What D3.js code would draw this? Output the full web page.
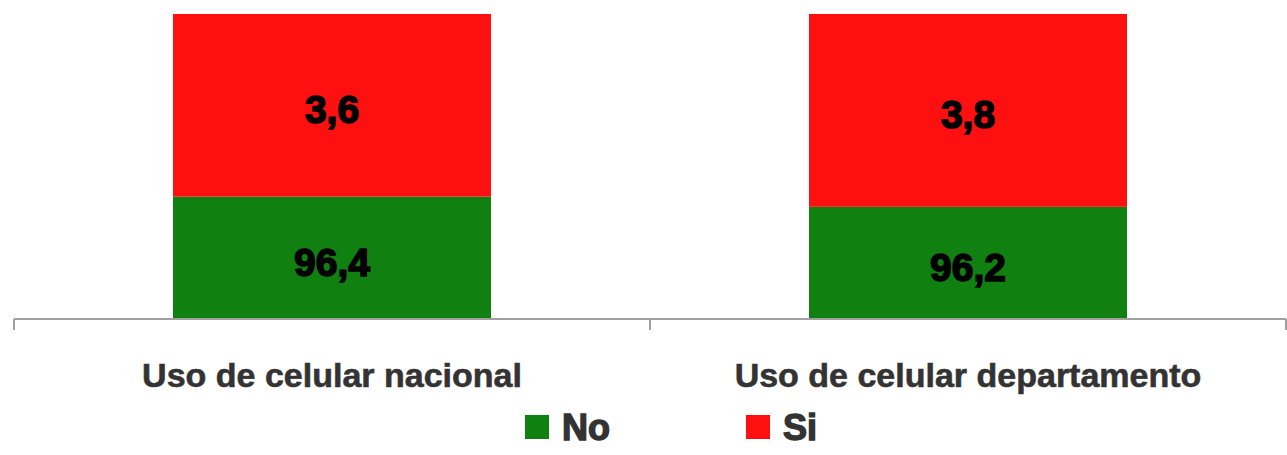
<!DOCTYPE html>
<html><head><meta charset="utf-8">
<script src="https://cdn.jsdelivr.net/npm/d3@7"></script>
<style>body{margin:0;background:#fff}svg{display:block}text{font-family:"Liberation Sans",Arial,sans-serif;font-weight:bold}</style>
</head><body>
<script>
const categories = ["Uso de celular nacional", "Uso de celular departamento"];
const seriesNames = ["No", "Si"];
const noValues = [96.4, 96.2];
const siValues = [3.6, 3.8];
const valueLabels = [["96,4", "3,6"], ["96,2", "3,8"]];
const colors = ["#108011", "#ff1010"];

const W = 1287, H = 455;
const svg = d3.select("body").append("svg").attr("width", W).attr("height", H);

const x = d3.scaleBand().domain(categories).range([14, 1286]).paddingInner(0.5).paddingOuter(0.25);
const y = d3.scaleLinear().domain([94, 100]).range([318.5, 14]);

const data = categories.map((c, i) => ({cat: c, No: noValues[i], Si: siValues[i], idx: i}));
const stack = d3.stack().keys(seriesNames)(data);

stack.forEach((layer, li) => {
  svg.append("g").selectAll("rect").data(layer).join("rect")
    .attr("x", d => x(d.data.cat))
    .attr("width", x.bandwidth())
    .attr("y", d => y(Math.min(d[1], 100)))
    .attr("height", d => y(Math.max(d[0], 94)) - y(Math.min(d[1], 100)))
    .attr("fill", colors[li]);
  svg.append("g").selectAll("text").data(layer).join("text")
    .attr("x", d => x(d.data.cat) + x.bandwidth() / 2)
    .attr("y", d => (y(Math.max(d[0], 94)) + y(Math.min(d[1], 100))) / 2 + 18)
    .attr("text-anchor", "middle")
    .attr("font-size", 39)
    .attr("fill", "#000")
    .attr("stroke", "#000").attr("stroke-width", 1.6)
    .text(d => valueLabels[d.data.idx][li]);
});

// axis
const axis = svg.append("g");
axis.append("line").attr("x1", 14).attr("x2", 1286).attr("y1", 319).attr("y2", 319)
  .attr("stroke", "#a0a0a0").attr("stroke-width", 2);
const bounds = [x(categories[0]) - x.step() * 0.25, x(categories[1]) - x.step() * 0.25, 1286];
axis.selectAll(".tick").data(bounds).join("line")
  .attr("x1", d => d).attr("x2", d => d).attr("y1", 319).attr("y2", 330)
  .attr("stroke", "#a0a0a0").attr("stroke-width", 2);
axis.selectAll(".lbl").data(categories).join("text")
  .attr("x", d => x(d) + x.bandwidth() / 2)
  .attr("y", 387)
  .attr("text-anchor", "middle")
  .attr("font-size", 34)
  .attr("fill", "#333")
  .attr("stroke", "#333").attr("stroke-width", 0.6)
  .text(d => d);

// legend
const legendX = [525, 746];
const lg = svg.append("g");
seriesNames.forEach((s, i) => {
  lg.append("rect").attr("x", legendX[i]).attr("y", 415).attr("width", 24).attr("height", 24).attr("fill", colors[i]);
  lg.append("text").attr("x", legendX[i] + 37).attr("y", 440).attr("font-size", 36).attr("fill", "#333")
    .attr("stroke", "#333").attr("stroke-width", 1.4).text(s);
});
</script>
</body></html>
